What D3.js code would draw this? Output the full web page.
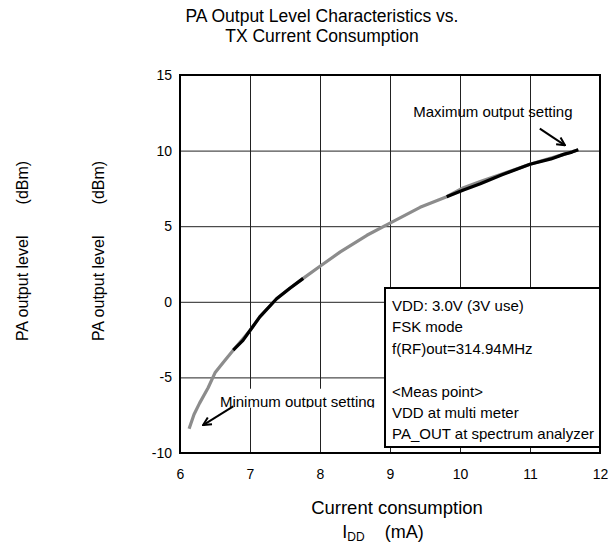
<!DOCTYPE html>
<html>
<head>
<meta charset="utf-8">
<script src="https://cdn.jsdelivr.net/npm/d3@7"></script>
<style>
  body { margin: 0; background: #fff; }
  svg { display: block; font-family: "Liberation Sans", Arial, sans-serif; }
</style>
</head>
<body>
<div id="chart"></div>
<script>
// ------- data -------
const titleLines = ["PA Output Level Characteristics vs.", "TX Current Consumption"];
const yTitle = "PA output level       (dBm)";
const xTitle = "Current consumption";
const xTicks = [6, 7, 8, 9, 10, 11, 12];
const yTicks = [-10, -5, 0, 5, 10, 15];

// gray trace (full sweep)
const grayX = [6.13, 6.20, 6.28, 6.40, 6.50, 6.62, 6.76, 7.00, 7.14, 7.38, 7.57, 7.76, 8.00, 8.29, 8.67, 9.00, 9.43, 9.81, 10.05, 10.29, 10.60, 11.00, 11.48, 11.69];
const grayY = [-8.40, -7.45, -6.70, -5.70, -4.70, -4.00, -3.20, -1.90, -1.00, 0.20, 0.90, 1.55, 2.35, 3.30, 4.40, 5.20, 6.25, 6.95, 7.55, 7.95, 8.45, 9.10, 9.75, 10.05];

// black trace segments
const blackLowX = [6.76, 6.90, 7.00, 7.14, 7.38, 7.57, 7.76];
const blackLowY = [-3.20, -2.55, -1.90, -1.00, 0.20, 0.90, 1.55];
const blackHighX = [9.81, 10.05, 10.29, 10.60, 11.00, 11.30, 11.48, 11.60, 11.69];
const blackHighY = [6.95, 7.40, 7.81, 8.40, 9.10, 9.45, 9.75, 9.90, 10.05];

const legendLines = ["VDD: 3.0V (3V use)", "FSK mode", "f(RF)out=314.94MHz", "", "<Meas point>", "VDD at multi meter", "PA_OUT at spectrum analyzer"];
const maxNote = { text: "Maximum output setting", x: 10.47, y: 12.2, from: [11.14, 11.45], to: [11.50, 10.35] };
const minNote = { text: "Minimum output setting", x: 6.57, y: -6.94, from: [6.76, -6.92], to: [6.33, -8.15] };

// ------- chart -------
const width = 615, height = 544;
const margin = { top: 75, right: 15, bottom: 91, left: 180 };
const w = width - margin.left - margin.right;
const h = height - margin.top - margin.bottom;
const FONT = "Liberation Sans, Arial, sans-serif";

const svg = d3.select("#chart").append("svg")
  .attr("width", width).attr("height", height);

const defs = svg.append("defs");
defs.append("marker")
  .attr("id", "arrow")
  .attr("viewBox", "0 0 10 10")
  .attr("refX", 9).attr("refY", 5)
  .attr("markerWidth", 10).attr("markerHeight", 10)
  .attr("markerUnits", "userSpaceOnUse")
  .attr("orient", "auto")
  .append("path")
  .attr("d", "M1,1 L9,5 L1,9")
  .attr("fill", "none").attr("stroke", "#000").attr("stroke-width", 2);

const g = svg.append("g").attr("transform", `translate(${margin.left},${margin.top})`);

const x = d3.scaleLinear().domain([6, 12]).range([0, w]);
const y = d3.scaleLinear().domain([-10, 15]).range([h, 0]);

// grid
g.append("g")
  .attr("transform", `translate(0,${h})`)
  .call(d3.axisBottom(x).tickValues(xTicks).tickSize(-h).tickFormat(""))
  .call(a => a.select(".domain").remove())
  .call(a => a.selectAll("line").attr("stroke", "#222").attr("stroke-width", 1));

g.append("g")
  .call(d3.axisLeft(y).tickValues(yTicks).tickSize(-w).tickFormat(""))
  .call(a => a.select(".domain").remove())
  .call(a => a.selectAll("line").attr("stroke", "#222").attr("stroke-width", 1));

// tick labels (plain hyphen minus, like the source)
g.append("g")
  .attr("transform", `translate(0,${h})`)
  .call(d3.axisBottom(x).tickValues(xTicks).tickSize(0).tickPadding(16).tickFormat(d => String(d)))
  .call(a => a.select(".domain").remove())
  .call(a => a.selectAll("text").attr("fill", "#000").style("font-size", "14px").style("font-family", FONT));

g.append("g")
  .call(d3.axisLeft(y).tickValues(yTicks).tickSize(0).tickPadding(8).tickFormat(d => String(d)))
  .call(a => a.select(".domain").remove())
  .call(a => a.selectAll("text").attr("fill", "#000").style("font-size", "14px").style("font-family", FONT));

// curves
const line = d3.line().x(d => x(d[0])).y(d => y(d[1]));
const zipXY = (xs, ys) => xs.map((v, i) => [v, ys[i]]);

g.append("path")
  .datum(zipXY(grayX, grayY))
  .attr("fill", "none").attr("stroke", "#8c8c8c").attr("stroke-width", 3.2)
  .attr("stroke-linejoin", "round")
  .attr("d", line);

[zipXY(blackLowX, blackLowY), zipXY(blackHighX, blackHighY)].forEach(seg => {
  g.append("path")
    .datum(seg)
    .attr("fill", "none").attr("stroke", "#000").attr("stroke-width", 3.2)
    .attr("stroke-linejoin", "round")
    .attr("d", line);
});

// plot border
g.append("rect")
  .attr("width", w).attr("height", h)
  .attr("fill", "none").attr("stroke", "#000").attr("stroke-width", 2);

// maximum note
g.append("text")
  .attr("x", x(maxNote.x)).attr("y", y(maxNote.y))
  .attr("text-anchor", "middle")
  .style("font-size", "15px")
  .text(maxNote.text);
g.append("line")
  .attr("x1", x(maxNote.from[0])).attr("y1", y(maxNote.from[1]))
  .attr("x2", x(maxNote.to[0])).attr("y2", y(maxNote.to[1]))
  .attr("stroke", "#000").attr("stroke-width", 2)
  .attr("marker-end", "url(#arrow)");

// minimum note with white backing, clipped at the bottom like the source
const minX = x(minNote.x), minY = y(minNote.y);
const boxL = minX - 4, boxW = (385 - margin.left) - boxL;
defs.append("clipPath").attr("id", "minclip")
  .append("rect").attr("x", boxL).attr("y", minY - 18).attr("width", boxW).attr("height", 19);
g.append("rect")
  .attr("x", boxL).attr("y", minY - 18)
  .attr("width", boxW).attr("height", 19)
  .attr("fill", "#fff");
g.append("text")
  .attr("x", minX).attr("y", minY)
  .style("font-size", "15px")
  .attr("clip-path", "url(#minclip)")
  .text(minNote.text);
g.append("line")
  .attr("x1", x(minNote.from[0])).attr("y1", y(minNote.from[1]))
  .attr("x2", x(minNote.to[0])).attr("y2", y(minNote.to[1]))
  .attr("stroke", "#000").attr("stroke-width", 2)
  .attr("marker-end", "url(#arrow)");

// legend box
const lg = svg.append("g").attr("transform", "translate(385,288)");
lg.append("rect")
  .attr("width", 215).attr("height", 159)
  .attr("fill", "#fff").attr("stroke", "#000").attr("stroke-width", 2);
lg.selectAll("text").data(legendLines).enter().append("text")
  .attr("x", 7).attr("y", (d, i) => 23 + i * 21.4)
  .style("font-size", "15px")
  .text(d => d);

// title
svg.append("g").selectAll("text").data(titleLines).enter().append("text")
  .attr("x", 322).attr("y", (d, i) => 22 + i * 20)
  .attr("text-anchor", "middle")
  .style("font-size", "17.5px")
  .text(d => d);

// y titles (twice, as in the source)
[28, 104].forEach(px => {
  svg.append("text")
    .attr("transform", `translate(${px},251) rotate(-90)`)
    .attr("text-anchor", "middle")
    .style("font-size", "16px")
    .style("white-space", "pre")
    .text(yTitle);
});

// x title
svg.append("text")
  .attr("x", 397).attr("y", 514)
  .attr("text-anchor", "middle")
  .style("font-size", "18.5px")
  .text(xTitle);
const sub = svg.append("text")
  .attr("x", 383).attr("y", 538)
  .attr("text-anchor", "middle")
  .style("font-size", "18px")
  .style("white-space", "pre");
sub.append("tspan").text("I");
sub.append("tspan").attr("dy", 3).style("font-size", "12px").text("DD");
sub.append("tspan").attr("dy", -3).text("    (mA)");
</script>
</body>
</html>
